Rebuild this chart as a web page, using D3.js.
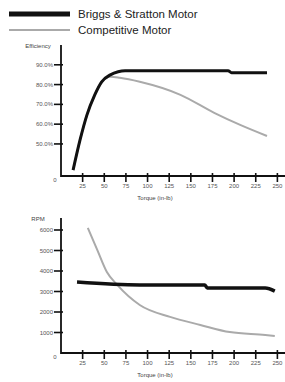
<!DOCTYPE html>
<html>
<head>
<meta charset="utf-8">
<script src="https://cdn.jsdelivr.net/npm/d3@7"></script>
<style>
  html, body { margin: 0; padding: 0; background: #fff; }
  svg { display: block; font-family: "Liberation Sans", Arial, sans-serif; }
</style>
</head>
<body>
<svg id="chart" width="285" height="382"></svg>
<script>
// Данные: крутящий момент (in-lb) -> КПД (%) и обороты (RPM)
const torqueTicks = [25, 50, 75, 100, 125, 150, 175, 200, 225, 250];
const effTicks = [50, 60, 70, 80, 90];
const rpmTicks = [1000, 2000, 3000, 4000, 5000, 6000];

const briggsEffTorque = [14, 22, 30, 39, 47, 57, 66, 74, 193, 197, 238];
const briggsEff       = [36.8, 52, 64.7, 74.8, 81.4, 84.9, 86.5, 87, 87, 86, 86];
const compEffTorque   = [14, 22, 30, 39, 47, 57, 68, 91, 138, 177, 207, 238];
const compEff         = [36.8, 52, 64.7, 74.8, 81.4, 83.9, 83.4, 81.4, 74.8, 65.7, 59.6, 54];

const briggsRpmTorque = [18.5, 91, 166, 169, 236, 247];
const briggsRpm       = [3460, 3320, 3320, 3170, 3170, 3020];
const compRpmTorque   = [31, 42, 53, 65, 91, 126, 161, 195, 236, 247];
const compRpm         = [6100, 5020, 3950, 3320, 2340, 1760, 1370, 1020, 880, 830];

const svg = d3.select('#chart');

// Легенда
const legend = [
    { name: 'Briggs & Stratton Motor', color: '#111', width: 5, y: 14 },
    { name: 'Competitive Motor', color: '#aaa', width: 2, y: 30 }
];
legend.forEach(d => {
    svg.append('line')
        .attr('x1', 9).attr('x2', 70)
        .attr('y1', d.y).attr('y2', d.y)
        .attr('stroke', d.color).attr('stroke-width', d.width);
    svg.append('text')
        .attr('x', 78).attr('y', d.y + 4)
        .attr('font-size', 11.5)
        .attr('fill', '#222')
        .text(d.name);
});

// Общая шкала X
const x = d3.scaleLinear().domain([0, 258.8]).range([61, 285]);

function drawPanel(opts) {
    const { y, yTicks, yFmt, yTop, yLabel, yLabelY, series } = opts;
    const base = y.range()[0];
    const g = svg.append('g');

    // Оси
    g.append('line').attr('x1', x(0)).attr('x2', x(0))
        .attr('y1', yTop).attr('y2', base + 1)
        .attr('stroke', '#111').attr('stroke-width', 1.8);
    g.append('line').attr('x1', x(0)).attr('x2', 285)
        .attr('y1', base).attr('y2', base)
        .attr('stroke', '#111').attr('stroke-width', 1.8);

    // Деления Y
    yTicks.forEach(v => {
        g.append('line')
            .attr('x1', x(0) - 7).attr('x2', x(0) + 2)
            .attr('y1', y(v)).attr('y2', y(v))
            .attr('stroke', '#111').attr('stroke-width', 1.6);
        g.append('text')
            .attr('x', x(0) - 8).attr('y', y(v) + 2)
            .attr('text-anchor', 'end')
            .attr('font-size', 6).attr('fill', '#555')
            .text(yFmt(v));
    });
    g.append('text').attr('x', 55).attr('y', base + 6)
        .attr('text-anchor', 'middle').attr('font-size', 6).attr('fill', '#555')
        .text('0');

    // Деления X
    torqueTicks.forEach(v => {
        g.append('line')
            .attr('x1', x(v)).attr('x2', x(v))
            .attr('y1', base - 3).attr('y2', base + 6)
            .attr('stroke', '#111').attr('stroke-width', 1.6);
        g.append('text')
            .attr('x', x(v)).attr('y', base + 12)
            .attr('text-anchor', 'middle')
            .attr('font-size', 6).attr('fill', '#555')
            .text(v);
    });

    g.append('text').attr('x', 38).attr('y', yLabelY)
        .attr('text-anchor', 'middle').attr('font-size', 6).attr('fill', '#444')
        .text(yLabel);
    g.append('text').attr('x', 155).attr('y', base + 24)
        .attr('text-anchor', 'middle').attr('font-size', 6).attr('fill', '#444')
        .text('Torque (in-lb)');

    // Кривые
    const line = d3.line().x(d => x(d[0])).y(d => y(d[1])).curve(d3.curveMonotoneX);
    series.forEach(s => {
        g.append('path')
            .datum(d3.zip(s.xs, s.ys))
            .attr('fill', 'none')
            .attr('stroke', s.color)
            .attr('stroke-width', s.width)
            .attr('d', line);
    });
}

// Верхний график: КПД
drawPanel({
    y: d3.scaleLinear().domain([33.8, 100]).range([176, 45]),
    yTicks: effTicks,
    yFmt: v => v.toFixed(1) + '%',
    yTop: 45,
    yLabel: 'Efficiency',
    yLabelY: 48,
    series: [
        { xs: compEffTorque, ys: compEff, color: '#aaa', width: 2 },
        { xs: briggsEffTorque, ys: briggsEff, color: '#111', width: 3 }
    ]
});

// Нижний график: обороты
drawPanel({
    y: d3.scaleLinear().domain([0, 6500]).range([353, 219.75]),
    yTicks: rpmTicks,
    yFmt: v => v,
    yTop: 218,
    yLabel: 'RPM',
    yLabelY: 221,
    series: [
        { xs: compRpmTorque, ys: compRpm, color: '#aaa', width: 2 },
        { xs: briggsRpmTorque, ys: briggsRpm, color: '#111', width: 3.5 }
    ]
});
</script>
</body>
</html>
